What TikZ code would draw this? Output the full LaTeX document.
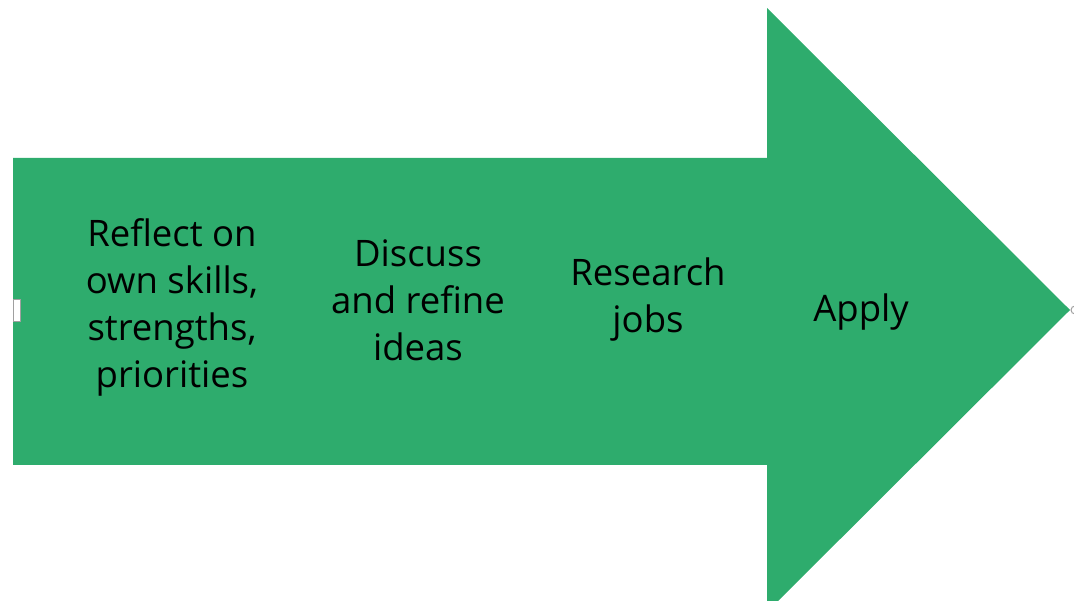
\documentclass[tikz,border=0pt]{standalone}
\usepackage{fontspec}
\setmainfont{Open Sans}
\definecolor{arrowgreen}{HTML}{2EAC6D}
\definecolor{handlegray}{HTML}{A0A0A0}
\tikzset{
  steptext/.style={align=center, font=\fontsize{36.5}{47}\selectfont, text=black, inner sep=0pt},
  handle/.style={draw=handlegray, fill=white, line width=1pt}
}
\begin{document}
\begin{tikzpicture}[x=1pt,y=1pt]
\useasboundingbox (0,0) rectangle (1074,600);
\begin{scope}
\clip (0,0) rectangle (1074,600);
\fill[arrowgreen] (13,442) -- (767,442) -- (767,592) -- (1070,290) -- (767,-12) -- (767,135) -- (13,135) -- cycle;
\filldraw[handle] (1075,290) circle (4);
\end{scope}
\filldraw[handle] (13,278) rectangle (20,300);
\node[steptext] (reflect) at (172,293) {Reflect on\\own skills,\\strengths,\\priorities};
\node[steptext] (discuss) at (418,300) {Discuss\\and refine\\ideas};
\node[steptext] (research) at (648,300) {Research\\jobs};
\node[steptext] (apply) at (861,288) {Apply};
\end{tikzpicture}
\end{document}
